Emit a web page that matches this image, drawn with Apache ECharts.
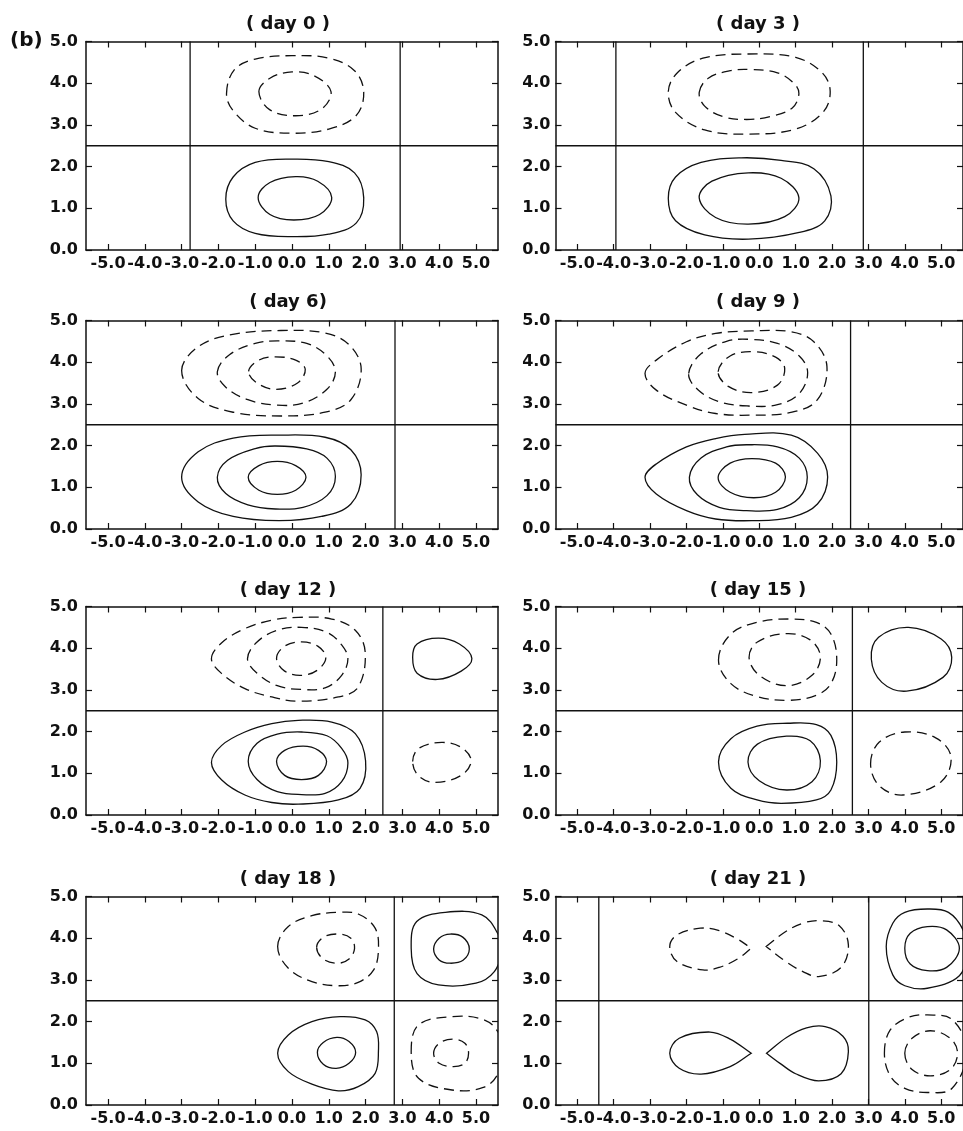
<!DOCTYPE html>
<html>
<head>
<meta charset="utf-8">
<script src="https://cdn.jsdelivr.net/npm/echarts@6/dist/echarts.min.js"></script>
<style>
  html, body { margin: 0; padding: 0; background: #fff; }
  #chart { width: 963px; height: 1131px; }
</style>
</head>
<body>
<div id="chart"></div>
<script>
// ---- data ----
const panelTitles = ['( day 0 )', '( day 3 )', '( day 6)', '( day 9 )', '( day 12 )', '( day 15 )', '( day 18 )', '( day 21 )'];
const xTickValues = [-5, -4, -3, -2, -1, 0, 1, 2, 3, 4, 5];
const yTickValues = [0, 1, 2, 3, 4, 5];
const xRange = [-5.6, 5.6];
const yRange = [0, 5];
const zeroLineY = 2.5;
// x position of the vertical zero contour(s) in each panel
const zeroLinesX = [[-2.77, 2.94], [-3.94, 2.86], [2.8], [2.51], [2.47], [2.56], [2.78], [-4.41, 3.01]];

// closed contours, [x, y] points; solid = positive, dashed = negative
// (a repeated point marks a sharp tip)
const day0Solid = [
  [[-1.8,1.22],[-1.6,1.75],[-1.0,2.1],[0,2.18],[1.0,2.12],[1.7,1.85],[1.95,1.25],[1.75,0.65],[1.0,0.38],[0,0.32],[-1.0,0.4],[-1.6,0.7]],
  [[-0.92,1.26],[-0.6,1.62],[0.1,1.76],[0.7,1.65],[1.08,1.26],[0.75,0.85],[0.05,0.72],[-0.6,0.85]]
];
const day0Dashed = [
  [[-1.78,3.75],[-1.57,4.32],[-1.0,4.58],[0,4.66],[1.0,4.6],[1.7,4.3],[1.95,3.78],[1.74,3.22],[1.0,2.9],[0,2.8],[-1.0,2.92],[-1.6,3.34]],
  [[-0.9,3.8],[-0.6,4.12],[0,4.27],[0.6,4.18],[1.06,3.8],[0.8,3.38],[0.1,3.22],[-0.6,3.36]]
];
const day3Solid = [
  [[-2.5,1.24],[-2.3,1.75],[-1.6,2.1],[-0.5,2.21],[0.6,2.15],[1.5,1.95],[1.97,1.3],[1.8,0.7],[1.1,0.42],[-0.3,0.26],[-1.5,0.36],[-2.3,0.7]],
  [[-1.65,1.25],[-1.3,1.65],[-0.3,1.85],[0.6,1.72],[1.09,1.25],[0.7,0.8],[-0.3,0.62],[-1.2,0.78]]
];
const day3Dashed = [
  [[-2.5,3.8],[-2.25,4.25],[-1.55,4.6],[-0.3,4.7],[1.0,4.62],[1.73,4.25],[1.95,3.8],[1.75,3.3],[1.0,2.9],[-0.3,2.78],[-1.5,2.88],[-2.3,3.3]],
  [[-1.65,3.78],[-1.4,4.12],[-0.8,4.3],[-0.25,4.33],[0.5,4.25],[0.95,4.0],[1.09,3.75],[0.9,3.4],[0.3,3.2],[-0.35,3.13],[-1.0,3.2],[-1.5,3.45]]
];
const day6Solid = [
  [[-3.0,1.24],[-2.55,1.85],[-1.6,2.18],[-0.35,2.25],[0.9,2.2],[1.6,1.9],[1.88,1.3],[1.6,0.6],[0.8,0.3],[-0.35,0.2],[-1.6,0.3],[-2.55,0.65]],
  [[-2.03,1.24],[-1.75,1.65],[-1.0,1.93],[-0.45,1.99],[0.4,1.92],[0.95,1.7],[1.18,1.26],[0.95,0.8],[0.3,0.52],[-0.45,0.48],[-1.2,0.58],[-1.8,0.85]],
  [[-1.19,1.24],[-0.9,1.52],[-0.4,1.62],[0.1,1.52],[0.38,1.24],[0.1,0.93],[-0.4,0.83],[-0.9,0.93]]
];
const day6Dashed = [
  [[-3.0,3.8],[-2.55,4.37],[-1.65,4.66],[-0.3,4.76],[0.9,4.7],[1.55,4.42],[1.88,3.85],[1.6,3.1],[0.9,2.8],[-0.3,2.71],[-1.6,2.8],[-2.55,3.13]],
  [[-2.03,3.77],[-1.7,4.18],[-1.0,4.45],[-0.4,4.51],[0.4,4.45],[0.95,4.15],[1.18,3.77],[0.95,3.35],[0.3,3.02],[-0.4,2.97],[-1.2,3.1],[-1.8,3.4]],
  [[-1.18,3.78],[-0.9,4.05],[-0.45,4.13],[0.1,4.05],[0.36,3.83],[0.15,3.5],[-0.45,3.35],[-0.95,3.5]]
];
const day9Solid = [
  [[-3.14,1.24],[-2.83,1.56],[-2.0,1.97],[-1.2,2.17],[-0.4,2.27],[0.88,2.25],[1.6,1.82],[1.88,1.25],[1.6,0.6],[0.88,0.28],[-0.2,0.2],[-1.2,0.24],[-2.0,0.44],[-2.83,0.84]],
  [[-1.92,1.24],[-1.6,1.7],[-0.9,1.97],[-0.35,2.02],[0.5,1.97],[1.1,1.7],[1.32,1.24],[1.1,0.75],[0.5,0.47],[-0.35,0.44],[-1.1,0.52],[-1.7,0.82]],
  [[-1.13,1.23],[-0.8,1.58],[-0.2,1.69],[0.45,1.58],[0.72,1.25],[0.45,0.88],[-0.15,0.75],[-0.8,0.88]]
];
const day9Dashed = [
  [[-3.14,3.73],[-2.83,4.05],[-2.0,4.49],[-1.2,4.69],[-0.2,4.75],[0.88,4.73],[1.5,4.49],[1.86,3.9],[1.6,3.1],[0.9,2.8],[-0.2,2.73],[-1.2,2.77],[-2.0,2.97],[-2.83,3.33]],
  [[-1.94,3.73],[-1.6,4.2],[-0.9,4.5],[-0.3,4.55],[0.5,4.45],[1.1,4.15],[1.33,3.75],[1.1,3.25],[0.5,2.98],[-0.3,2.95],[-1.1,3.05],[-1.7,3.35]],
  [[-1.13,3.77],[-0.8,4.15],[-0.15,4.25],[0.45,4.12],[0.7,3.85],[0.5,3.45],[-0.2,3.27],[-0.85,3.42]]
];
const day12Solid = [
  [[-2.19,1.26],[-1.91,1.67],[-1.28,1.99],[-0.55,2.19],[0.17,2.27],[1.08,2.23],[1.72,1.95],[2.0,1.3],[1.85,0.64],[1.26,0.36],[0.17,0.26],[-0.55,0.3],[-1.28,0.48],[-1.91,0.84]],
  [[-1.19,1.29],[-0.95,1.72],[-0.4,1.94],[0.26,1.99],[0.95,1.9],[1.35,1.6],[1.52,1.25],[1.35,0.8],[0.9,0.52],[0.26,0.49],[-0.4,0.56],[-0.95,0.85]],
  [[-0.42,1.28],[-0.2,1.55],[0.3,1.65],[0.72,1.55],[0.94,1.28],[0.72,0.95],[0.26,0.85],[-0.2,0.95]],
  [[3.28,3.78],[3.4,4.1],[3.98,4.24],[4.55,4.1],[4.89,3.75],[4.6,3.45],[3.95,3.25],[3.4,3.4]]
];
const day12Dashed = [
  [[-2.19,3.75],[-1.91,4.13],[-1.28,4.47],[-0.55,4.67],[0.17,4.74],[1.08,4.7],[1.72,4.43],[1.99,3.9],[1.8,3.07],[1.26,2.83],[0.17,2.73],[-0.55,2.83],[-1.28,3.03],[-1.91,3.39]],
  [[-1.21,3.75],[-0.95,4.15],[-0.4,4.43],[0.26,4.5],[0.95,4.38],[1.35,4.08],[1.52,3.75],[1.35,3.35],[0.9,3.05],[0.26,3.01],[-0.4,3.1],[-0.95,3.4]],
  [[-0.42,3.76],[-0.2,4.05],[0.26,4.15],[0.7,4.05],[0.92,3.78],[0.7,3.48],[0.26,3.35],[-0.2,3.45]],
  [[3.28,1.28],[3.45,1.6],[4.07,1.74],[4.6,1.62],[4.87,1.3],[4.6,0.95],[3.9,0.78],[3.45,0.93]]
];
const day15Solid = [
  [[-1.12,1.27],[-0.78,1.83],[-0.06,2.13],[0.78,2.2],[1.57,2.17],[1.97,1.91],[2.13,1.27],[1.97,0.6],[1.57,0.36],[0.6,0.28],[-0.06,0.36],[-0.78,0.64]],
  [[-0.31,1.27],[-0.05,1.7],[0.75,1.89],[1.4,1.78],[1.68,1.3],[1.45,0.8],[0.75,0.6],[0.0,0.82]],
  [[3.08,3.74],[3.28,4.26],[4.1,4.5],[5.0,4.22],[5.29,3.78],[5.05,3.3],[4.05,2.97],[3.37,3.18]]
];
const day15Dashed = [
  [[-1.12,3.72],[-0.78,4.34],[-0.06,4.62],[0.8,4.7],[1.57,4.62],[1.97,4.34],[2.13,3.72],[1.97,3.15],[1.57,2.87],[0.8,2.75],[-0.06,2.84],[-0.78,3.15]],
  [[-0.28,3.78],[-0.05,4.15],[0.75,4.35],[1.4,4.2],[1.68,3.8],[1.45,3.35],[0.75,3.1],[0.0,3.35]],
  [[3.06,1.23],[3.3,1.75],[4.0,1.99],[4.85,1.85],[5.27,1.4],[5.0,0.8],[3.95,0.48],[3.3,0.7]]
];
const day18Solid = [
  [[-0.39,1.24],[-0.1,1.68],[0.54,2.0],[1.31,2.12],[1.99,2.04],[2.3,1.76],[2.35,1.3],[2.26,0.76],[1.8,0.44],[1.26,0.34],[0.54,0.5],[-0.1,0.8]],
  [[0.69,1.26],[0.85,1.5],[1.22,1.62],[1.55,1.52],[1.73,1.26],[1.55,1.0],[1.2,0.88],[0.85,0.98]],
  [[3.24,3.76],[3.39,4.4],[4.17,4.62],[5.16,4.56],[5.6,4.1],[5.7,3.7],[5.5,3.2],[5.0,2.92],[3.98,2.88],[3.4,3.15]],
  [[3.85,3.74],[4.0,4.0],[4.3,4.1],[4.65,4.02],[4.82,3.74],[4.65,3.47],[4.3,3.4],[4.0,3.48]]
];
const day18Dashed = [
  [[-0.39,3.8],[-0.1,4.28],[0.54,4.54],[1.26,4.62],[1.8,4.58],[2.26,4.24],[2.35,3.72],[2.22,3.24],[1.8,2.94],[1.26,2.86],[0.54,2.96],[-0.1,3.28]],
  [[0.67,3.78],[0.85,4.02],[1.25,4.1],[1.6,4.0],[1.7,3.75],[1.55,3.5],[1.25,3.4],[0.85,3.5]],
  [[3.24,1.28],[3.44,1.92],[4.35,2.12],[5.2,2.05],[5.6,1.75],[5.7,1.3],[5.6,0.75],[5.2,0.42],[4.35,0.36],[3.44,0.64]],
  [[3.85,1.24],[4.0,1.48],[4.39,1.58],[4.7,1.48],[4.8,1.24],[4.7,1.0],[4.39,0.92],[4.0,1.0]]
];
const day21Solid = [
  [[-2.46,1.24],[-2.2,1.6],[-1.35,1.75],[-0.8,1.58],[-0.22,1.24],[-0.22,1.24],[-0.8,0.92],[-1.6,0.74],[-2.2,0.88]],
  [[0.2,1.24],[0.2,1.24],[0.75,1.62],[1.3,1.85],[1.81,1.88],[2.3,1.65],[2.45,1.28],[2.25,0.75],[1.63,0.58],[1.0,0.75],[0.6,0.98]],
  [[3.49,3.8],[3.67,4.36],[4.0,4.62],[4.62,4.7],[5.2,4.62],[5.6,4.2],[5.7,3.7],[5.5,3.1],[4.62,2.8],[4.0,2.86],[3.67,3.12]],
  [[4.0,3.76],[4.15,4.12],[4.62,4.28],[5.15,4.2],[5.5,3.76],[5.15,3.3],[4.62,3.22],[4.15,3.38]]
];
const day21Dashed = [
  [[-2.46,3.8],[-2.26,4.08],[-1.62,4.24],[-1.1,4.18],[-0.6,3.98],[-0.22,3.76],[-0.22,3.76],[-0.6,3.5],[-1.1,3.3],[-1.55,3.24],[-2.26,3.44]],
  [[0.19,3.8],[0.19,3.8],[0.73,4.16],[1.2,4.36],[1.68,4.42],[2.2,4.3],[2.45,3.84],[2.25,3.3],[1.63,3.08],[1.2,3.2],[0.73,3.44]],
  [[3.44,1.24],[3.6,1.8],[4.1,2.1],[4.62,2.16],[5.3,2.05],[5.7,1.3],[5.3,0.4],[4.62,0.3],[4.0,0.4],[3.6,0.7]],
  [[4.0,1.24],[4.2,1.6],[4.7,1.78],[5.25,1.6],[5.45,1.24],[5.25,0.85],[4.7,0.7],[4.2,0.85]]
];

const solidContours = [day0Solid, day3Solid, day6Solid, day9Solid, day12Solid, day15Solid, day18Solid, day21Solid];
const dashedContours = [day0Dashed, day3Dashed, day6Dashed, day9Dashed, day12Dashed, day15Dashed, day18Dashed, day21Dashed];

// ---- layout ----
const colLeft = [86, 555.5];
const rowTop = [41.5, 320.5, 606.5, 896.5];
const plotW = 412, plotH = 208.5;
const yLabelMargin = [8, 5];
const titleX = [288, 758];
const titleY = [24.5, 302, 590.5, 879];

const FONT = "'DejaVu Sans', sans-serif";
const INK = '#111';
const labelStyle = { fontFamily: FONT, fontWeight: 'bold', fontSize: 16, color: INK };

const chart = echarts.init(document.getElementById('chart'), null, { renderer: 'canvas' });

const grids = [], xAxes = [], yAxes = [], series = [], graphics = [];

function contourSeries(p, contours, dashed) {
  return {
    type: 'custom',
    xAxisIndex: 2 * p,
    yAxisIndex: 2 * p,
    clip: true,
    silent: true,
    data: contours.map(c => c[0]),
    renderItem: (params, api) => ({
      type: 'polygon',
      shape: { points: contours[params.dataIndex].map(pt => api.coord(pt)), smooth: 0.37 },
      style: { fill: 'none', stroke: INK, lineWidth: 1.3, lineDash: dashed ? [10, 6] : null }
    })
  };
}

function lineSeries(p, pts) {
  return {
    type: 'line',
    xAxisIndex: 2 * p,
    yAxisIndex: 2 * p,
    data: pts,
    showSymbol: false,
    silent: true,
    animation: false,
    lineStyle: { color: INK, width: 1.3 }
  };
}

panelTitles.forEach((title, p) => {
  const col = p % 2, row = Math.floor(p / 2);
  grids.push({ left: colLeft[col], top: rowTop[row], width: plotW, height: plotH, containLabel: false });

  const axisLine = { show: true, onZero: false, lineStyle: { color: INK, width: 1.5 } };
  const tick = { show: true, inside: true, length: 6, lineStyle: { color: INK, width: 1.2 } };

  xAxes.push({
    type: 'value', gridIndex: p, position: 'bottom', min: xRange[0], max: xRange[1],
    axisLine, splitLine: { show: false },
    axisTick: Object.assign({ customValues: xTickValues }, tick),
    axisLabel: Object.assign({ customValues: xTickValues, margin: 6, formatter: v => v.toFixed(1) }, labelStyle)
  });
  xAxes.push({
    type: 'value', gridIndex: p, position: 'top', min: xRange[0], max: xRange[1],
    axisLine, splitLine: { show: false },
    axisTick: Object.assign({ customValues: xTickValues }, tick),
    axisLabel: { show: false }
  });
  yAxes.push({
    type: 'value', gridIndex: p, position: 'left', min: yRange[0], max: yRange[1],
    axisLine, splitLine: { show: false },
    axisTick: Object.assign({ customValues: yTickValues }, tick),
    axisLabel: Object.assign({ customValues: yTickValues, margin: yLabelMargin[col], formatter: v => v.toFixed(1) }, labelStyle)
  });
  yAxes.push({
    type: 'value', gridIndex: p, position: 'right', min: yRange[0], max: yRange[1],
    axisLine, splitLine: { show: false },
    axisTick: Object.assign({ customValues: yTickValues }, tick),
    axisLabel: { show: false }
  });

  series.push(lineSeries(p, [[xRange[0], zeroLineY], [xRange[1], zeroLineY]]));
  zeroLinesX[p].forEach(x => series.push(lineSeries(p, [[x, yRange[0]], [x, yRange[1]]])));
  series.push(contourSeries(p, solidContours[p], false));
  series.push(contourSeries(p, dashedContours[p], true));

  graphics.push({
    type: 'text', x: titleX[col], y: titleY[row], silent: true,
    style: {
      text: title, fontFamily: FONT, fontWeight: 'bold', fontSize: 18, fill: INK,
      align: 'center', verticalAlign: 'middle', textAlign: 'center', textVerticalAlign: 'middle'
    }
  });
});

graphics.push({
  type: 'text', x: 10, y: 41, silent: true,
  style: {
    text: '(b)', fontFamily: FONT, fontWeight: 'bold', fontSize: 20, fill: INK,
    align: 'left', verticalAlign: 'middle', textAlign: 'left', textVerticalAlign: 'middle'
  }
});

chart.setOption({
  animation: false,
  backgroundColor: '#fff',
  grid: grids,
  xAxis: xAxes,
  yAxis: yAxes,
  series: series,
  graphic: graphics
});
</script>
</body>
</html>
